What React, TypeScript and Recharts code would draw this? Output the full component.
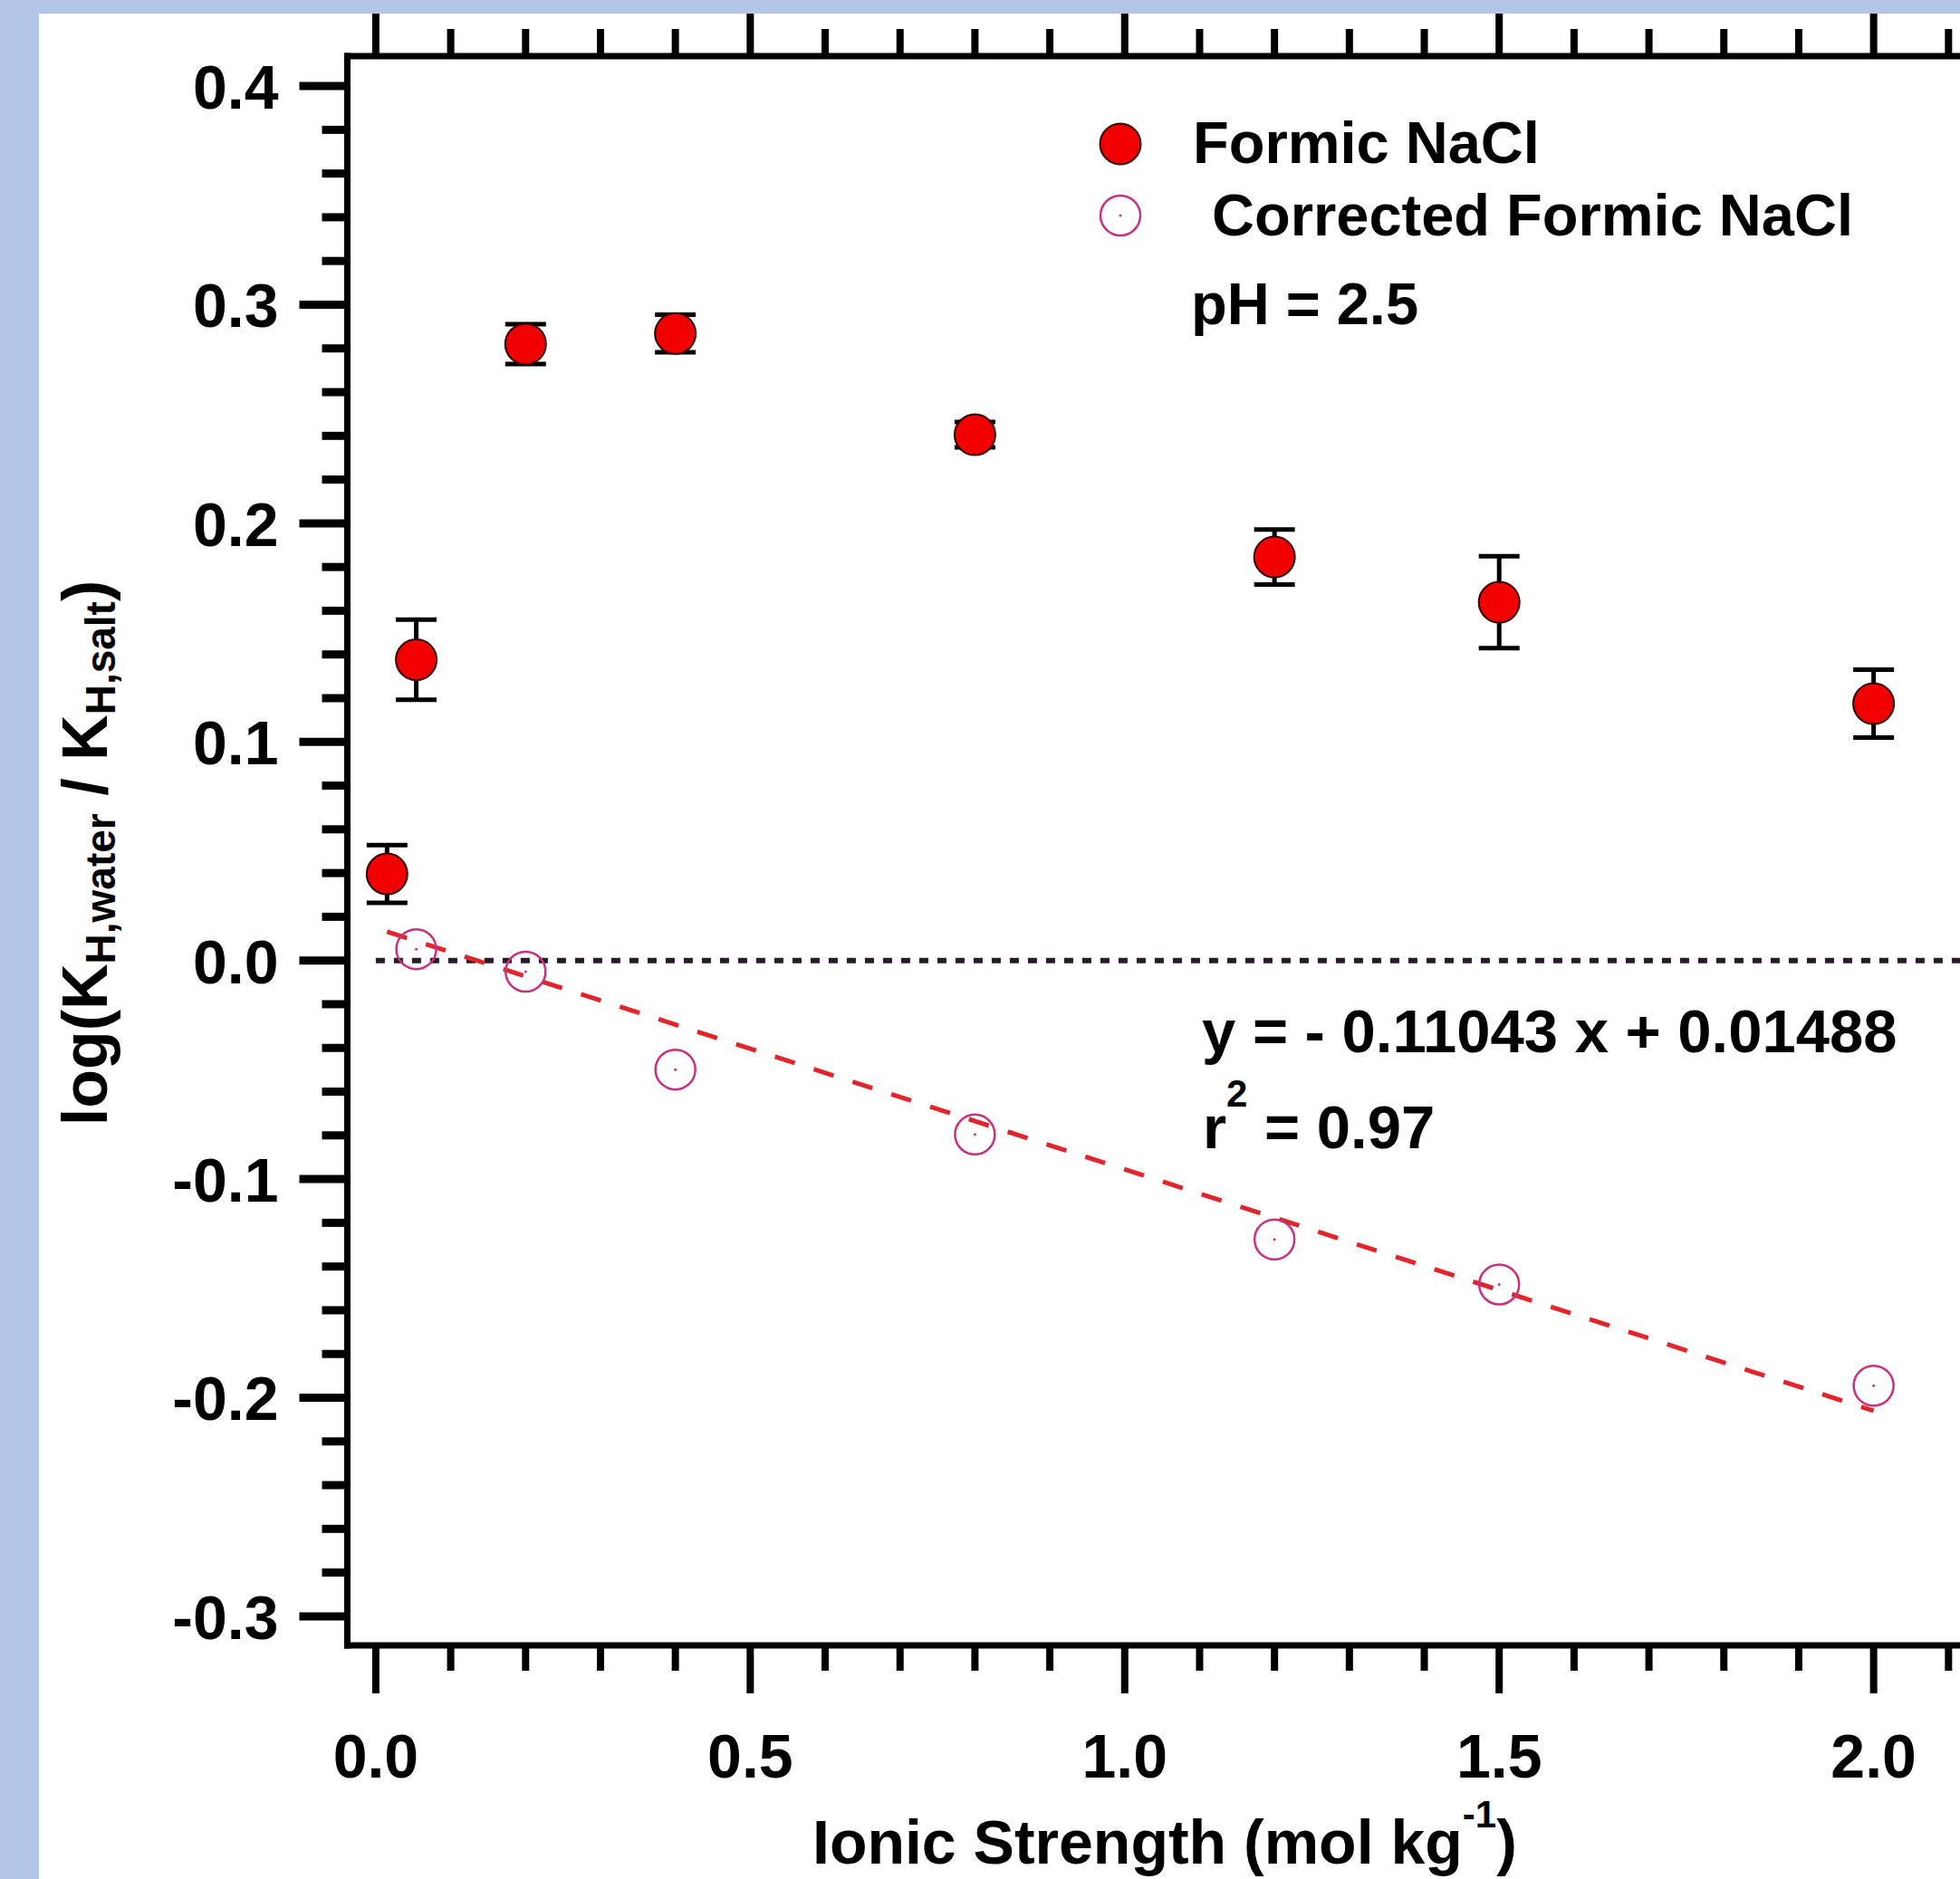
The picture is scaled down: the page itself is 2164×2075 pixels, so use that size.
import {
  ComposedChart,
  Scatter,
  ErrorBar,
  XAxis,
  YAxis,
  ReferenceLine,
  Legend,
} from "recharts";

// Formic acid in NaCl: measured log(KH,water / KH,salt) with error bars
const FORMIC_X = [0.015, 0.054, 0.2, 0.4, 0.8, 1.2, 1.5, 2.0];
const FORMIC_Y = [0.0396, 0.1376, 0.282, 0.2868, 0.2405, 0.1846, 0.1639, 0.1175];
const FORMIC_ERR = [0.0132, 0.0183, 0.0091, 0.0086, 0.0058, 0.0126, 0.021, 0.0155];

// corrected values (open circles)
const CORR_X = [0.054, 0.2, 0.4, 0.8, 1.2, 1.5, 2.0];
const CORR_Y = [0.0052, -0.0051, -0.0499, -0.0796, -0.1276, -0.1482, -0.1945];

// linear fit endpoints, y = -0.11043 x + 0.01488
const FIT_X = [0.015, 2.0];
const FIT_Y = [0.0132, -0.206];

// dotted zero line
const ZERO_X = [0.0, 2.2];

const X_MAJOR = [0.0, 0.5, 1.0, 1.5, 2.0];
const X_LABELS = ["0.0", "0.5", "1.0", "1.5", "2.0"];
const X_TICKS = [
  0.0, 0.1, 0.2, 0.3, 0.4, 0.5, 0.6, 0.7, 0.8, 0.9, 1.0, 1.1, 1.2, 1.3, 1.4,
  1.5, 1.6, 1.7, 1.8, 1.9, 2.0, 2.1,
];

const Y_MAJOR = [-0.3, -0.2, -0.1, 0.0, 0.1, 0.2, 0.3, 0.4];
const Y_LABELS = ["-0.3", "-0.2", "-0.1", "0.0", "0.1", "0.2", "0.3", "0.4"];
const Y_TICKS = [
  -0.3, -0.28, -0.26, -0.24, -0.22, -0.2, -0.18, -0.16, -0.14, -0.12, -0.1,
  -0.08, -0.06, -0.04, -0.02, 0.0, 0.02, 0.04, 0.06, 0.08, 0.1, 0.12, 0.14,
  0.16, 0.18, 0.2, 0.22, 0.24, 0.26, 0.28, 0.3, 0.32, 0.34, 0.36, 0.38, 0.4,
];

const SERIES_NAMES = ["Formic NaCl", "Corrected Formic NaCl"];

const FONT = "'Liberation Sans', Arial, Helvetica, sans-serif";
const BLUE = "#b3c6e7";
const RED = "#f20000";
const PINK = "#c8327c";
const FIT_RED = "#e3242b";
const ZERO_COLOR = "#2b1a2b";

const formicData = FORMIC_X.map((x, i) => ({ x, y: FORMIC_Y[i], err: FORMIC_ERR[i] }));
const corrData = CORR_X.map((x, i) => ({ x, y: CORR_Y[i] }));

function majorIndex(list: number[], v: number) {
  return list.findIndex((m) => Math.abs(m - v) < 1e-6);
}

const BottomTick = (props: any) => {
  const { x, y, payload } = props;
  const idx = majorIndex(X_MAJOR, payload.value);
  return (
    <g>
      <line x1={x} x2={x} y1={y} y2={y + (idx >= 0 ? 53 : 28)} stroke="#000" strokeWidth={8} />
      {idx >= 0 && (
        <text x={x} y={y + 146} textAnchor="middle" fontSize={68} fontWeight="bold" fontFamily={FONT} fill="#000">
          {X_LABELS[idx]}
        </text>
      )}
    </g>
  );
};

const TopTick = (props: any) => {
  const { x, y, payload } = props;
  const idx = majorIndex(X_MAJOR, payload.value);
  return <line x1={x} x2={x} y1={y} y2={y - (idx >= 0 ? 53 : 30)} stroke="#000" strokeWidth={8} />;
};

const LeftTick = (props: any) => {
  const { x, y, payload } = props;
  const idx = majorIndex(Y_MAJOR, payload.value);
  return (
    <g>
      <line x1={x} x2={x - (idx >= 0 ? 53 : 28)} y1={y} y2={y} stroke="#000" strokeWidth={9} />
      {idx >= 0 && (
        <text x={x - 76} y={y + 25} textAnchor="end" fontSize={68} fontWeight="bold" fontFamily={FONT} fill="#000">
          {Y_LABELS[idx]}
        </text>
      )}
    </g>
  );
};

const FilledDot = (props: any) => (
  <circle cx={props.cx} cy={props.cy} r={22.5} fill={RED} stroke="#2a0000" strokeWidth={2} />
);

const OpenDot = (props: any) => (
  <g>
    <circle cx={props.cx} cy={props.cy} r={22} fill="none" stroke={PINK} strokeWidth={2.5} />
    <circle cx={props.cx} cy={props.cy} r={1.5} fill={PINK} />
  </g>
);

const LegendBox = () => (
  <svg width={960} height={180} style={{ overflow: "visible" }}>
    <circle cx={47} cy={49} r={22.5} fill={RED} stroke="#2a0000" strokeWidth={2} />
    <text x={127} y={70} fontSize={65} fontWeight="bold" fontFamily={FONT} fill="#000">
      {SERIES_NAMES[0]}
    </text>
    <circle cx={47} cy={128} r={22} fill="none" stroke={PINK} strokeWidth={2.5} />
    <circle cx={47} cy={128} r={1.5} fill={PINK} />
    <text x={148} y={150} fontSize={65} fontWeight="bold" fontFamily={FONT} fill="#000">
      {SERIES_NAMES[1]}
    </text>
  </svg>
);

const axisLineStyle = { stroke: "#000", strokeWidth: 7, strokeLinecap: "square" as const };

export default function App() {
  return (
    <div
      style={{
        position: "absolute",
        left: 0,
        top: 0,
        width: 2164,
        height: 2075,
        overflow: "hidden",
        background: BLUE,
      }}
    >
      <div style={{ position: "absolute", left: 43, top: 15, width: 2121, height: 2060, background: "#fff" }} />
      <div style={{ position: "absolute", left: 0, top: 0 }}>
        <ComposedChart width={2254} height={2075} margin={{ top: 52, right: 20, bottom: 58, left: 283.5 }}>
          <XAxis
            xAxisId={0}
            dataKey="x"
            type="number"
            domain={[-0.038, 2.2]}
            allowDataOverflow
            ticks={X_TICKS}
            interval={0}
            height={200}
            tickSize={0}
            tickMargin={0}
            tick={BottomTick}
            axisLine={axisLineStyle}
            tickLine={false}
          />
          <XAxis
            xAxisId="top"
            orientation="top"
            dataKey="x"
            type="number"
            domain={[-0.038, 2.2]}
            allowDataOverflow
            ticks={X_TICKS}
            interval={0}
            height={10}
            tickSize={0}
            tickMargin={0}
            tick={TopTick}
            axisLine={axisLineStyle}
            tickLine={false}
          />
          <YAxis
            dataKey="y"
            type="number"
            domain={[-0.3133, 0.4137]}
            allowDataOverflow
            ticks={Y_TICKS}
            interval={0}
            width={100}
            tickSize={0}
            tickMargin={0}
            tick={LeftTick}
            axisLine={axisLineStyle}
            tickLine={false}
          />
          <ReferenceLine
            segment={[
              { x: ZERO_X[0], y: 0 },
              { x: ZERO_X[1], y: 0 },
            ]}
            stroke={ZERO_COLOR}
            strokeWidth={6}
            strokeDasharray="10 10"
          />
          <ReferenceLine
            segment={[
              { x: FIT_X[0], y: FIT_Y[0] },
              { x: FIT_X[1], y: FIT_Y[1] },
            ]}
            stroke={FIT_RED}
            strokeWidth={5}
            strokeDasharray="23 22"
          />
          <Scatter
            name={SERIES_NAMES[1]}
            data={corrData}
            shape={OpenDot}
            isAnimationActive={false}
          />
          <Scatter
            name={SERIES_NAMES[0]}
            data={formicData}
            shape={FilledDot}
            isAnimationActive={false}
          >
            <ErrorBar dataKey="err" direction="y" width={22.5} strokeWidth={5} stroke="#000" />
          </Scatter>
          <Legend
            layout="vertical"
            align="center"
            verticalAlign="middle"
            content={LegendBox}
            wrapperStyle={{ position: "absolute", left: 1190, top: 110, width: 960, height: 180 }}
          />
        </ComposedChart>
      </div>
      <svg
        width={2164}
        height={2075}
        style={{ position: "absolute", left: 0, top: 0, pointerEvents: "none" }}
        fontFamily={FONT}
        fontWeight="bold"
        fill="#000"
      >
        <text x={1315} y={358} fontSize={65}>
          pH = 2.5
        </text>
        <text x={1327} y={1162} fontSize={67}>
          y = - 0.11043 x + 0.01488
        </text>
        <text x={1328} y={1268} fontSize={67}>
          r
          <tspan fontSize={42} dy={-46}>
            2
          </tspan>
          <tspan dy={46}> = 0.97</tspan>
        </text>
        <text x={897} y={2058} fontSize={68}>
          Ionic Strength (mol kg
          <tspan fontSize={42} dy={-40}>
            -1
          </tspan>
          <tspan dy={40}>)</tspan>
        </text>
        <text transform="translate(118 942) rotate(-90)" textAnchor="middle" fontSize={70}>
          log(K
          <tspan fontSize={46} dy={9}>
            H,water
          </tspan>
          <tspan dy={-9}> / K</tspan>
          <tspan fontSize={46} dy={9}>
            H,salt
          </tspan>
          <tspan dy={-9}>)</tspan>
        </text>
      </svg>
      <div style={{ position: "absolute", left: 0, top: 0, width: 2164, height: 15, background: BLUE }} />
      <div style={{ position: "absolute", left: 0, top: 0, width: 43, height: 2075, background: BLUE }} />
    </div>
  );
}
